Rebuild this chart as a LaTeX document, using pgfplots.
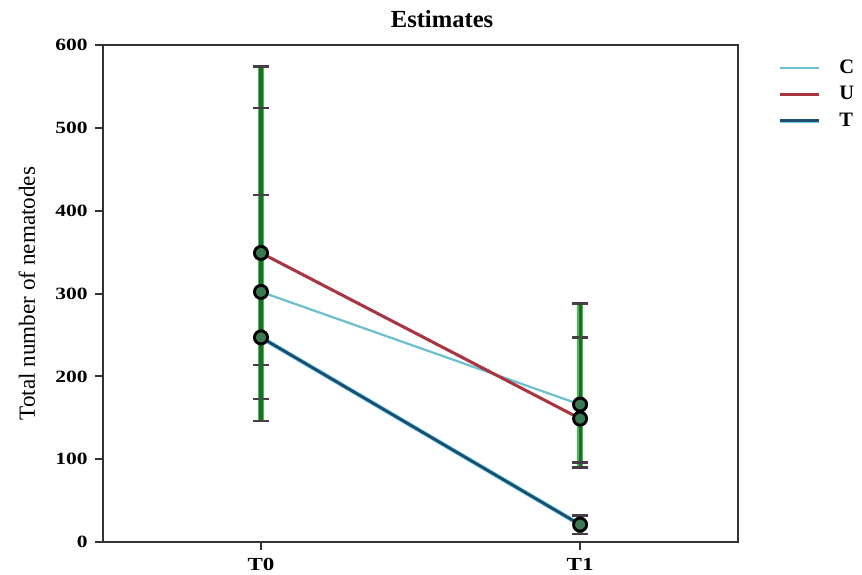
\documentclass[border=0pt]{standalone}
\usepackage{fontspec}
\setmainfont{Liberation Serif}
\newfontfamily\wide{Liberation Serif}[FakeStretch=1.25]
\usepackage{pgfplots}
\pgfplotsset{compat=1.18}
\definecolor{cC}{HTML}{6CC0D0}
\definecolor{cU}{HTML}{A8363F}
\definecolor{cT}{HTML}{1D4E6B}
\definecolor{ebar}{HTML}{1F6B2C}
\definecolor{eedge}{HTML}{3FC04A}
\definecolor{ecap}{HTML}{4A3A4A}
\definecolor{mfill}{HTML}{3B7A50}
\begin{document}
\begin{tikzpicture}
\begin{axis}[
    scale only axis,
    width=310pt, height=242.6pt,
    xmin=-0.495, xmax=1.495,
    ymin=0, ymax=600,
    xtick={0,1}, xticklabels={T0,T1},
    ytick={0,100,...,600},
    axis line style={line width=1pt, black!80},
    tick style={line width=1pt, black!80},
    tick align=outside, tick pos=left,
    major tick length=4pt,
    /pgf/number format/assume math mode=true,
    yticklabel style={font=\wide\fontsize{8.4}{10}\selectfont\bfseries},
    xticklabel style={font=\wide\fontsize{9}{11}\selectfont\bfseries, yshift=-0.5pt},
    ylabel={Total number of nematodes},
    ylabel style={font=\fontsize{11.3}{13}\selectfont, yshift=3pt},
    title={Estimates},
    title style={at={(0.5,1)}, anchor=base, yshift=2.8pt, xshift=10.5pt,
      font=\fontsize{12}{14}\selectfont\bfseries},
    legend style={at={(1,1)}, anchor=north west, xshift=16pt, yshift=-3pt,
      draw=none, fill=none,
      font=\fontsize{10}{12}\selectfont\bfseries, row sep=0.8pt},
    legend cell align=left,
    legend image code/.code={\draw[#1] (0pt,0pt) -- (19pt,0pt); \path (26pt,0pt);},
    clip=false,
    ebunder/.style={only marks, mark=none,
      error bars/.cd, y dir=both, y explicit,
      error bar style={draw=eedge, line width=2.6pt},
      error mark=none,
      /pgfplots/.cd, forget plot},
    ebstyle/.style={only marks, mark=*, mark size=3.2pt,
      mark options={fill=mfill, draw=black, line width=1.4pt},
      error bars/.cd, y dir=both, y explicit,
      error bar style={draw=ebar, line width=1.5pt},
      error mark options={rotate=90, mark size=4pt, ecap, line width=1.2pt},
      /pgfplots/.cd, forget plot},
  ]
  \addplot[cC, line width=1.1pt] coordinates {(0,302) (1,166)};
  \addlegendentry{C}
  \addplot[cU, line width=1.5pt] coordinates {(0,349) (1,149)};
  \addlegendentry{U}
  \addplot[draw=cyan!55, double=cT, double distance=1.4pt, line width=0.4pt] coordinates {(0,247) (1,21)};
  \addlegendentry{T}
  % error bars: light underlay, then dark bar with caps and markers
  \addplot[ebunder] coordinates {(0,302) += (0,272) -= (0,88) (1,166) += (0,81) -= (0,76)};
  \addplot[ebunder] coordinates {(0,349) += (0,175) -= (0,176) (1,149) += (0,139) -= (0,53)};
  \addplot[ebunder] coordinates {(0,247) += (0,172) -= (0,101) (1,21) += (0,11) -= (0,11)};
  \addplot[ebstyle] coordinates {(0,302) += (0,272) -= (0,88) (1,166) += (0,81) -= (0,76)};
  \addplot[ebstyle] coordinates {(0,349) += (0,175) -= (0,176) (1,149) += (0,139) -= (0,53)};
  \addplot[ebstyle] coordinates {(0,247) += (0,172) -= (0,101) (1,21) += (0,11) -= (0,11)};
\end{axis}
\pgfresetboundingbox
\path[use as bounding box] ([xshift=-50.3pt, yshift=-16pt]current axis.south west)
  rectangle ([xshift=60.5pt, yshift=22pt]current axis.north east);
\end{tikzpicture}
\end{document}
